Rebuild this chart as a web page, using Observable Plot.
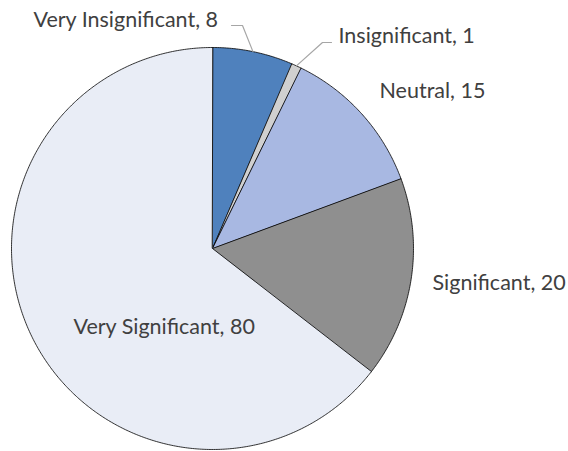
<!DOCTYPE html>
<html><head><meta charset="utf-8">
<script src="https://cdn.jsdelivr.net/npm/d3@7"></script>
<script src="https://cdn.jsdelivr.net/npm/@observablehq/plot@0.6"></script>
<style>body{margin:0;background:#fff}</style>
</head><body><div id="chart"></div>
<script>
const categories = ["Very Insignificant", "Insignificant", "Neutral", "Significant", "Very Significant"];
const values = [8, 1, 15, 20, 80];
const colors = ["#4f81bd", "#d0d0d0", "#a8b8e2", "#8f8f8f", "#e9edf6"];

// layout (pixel positions for labels & leader elbows)
const labelLayout = [
  {x: 33, y: 20, leader: [[242, 25], [231, 25]]},
  {x: 338, y: 36, leader: [[322, 42], [331, 42]]},
  {x: 379, y: 91, leader: null},
  {x: 432, y: 283, leader: null},
  {x: 73, y: 327, leader: null}
];
const cx = 212, cy = 248, R = 201;
const toU = (px) => (px - cx) / R;
const toV = (py) => (cy - py) / R;

const pie = d3.pie().sort(null).value(d => d.value).startAngle(0).endAngle(2 * Math.PI);
const rows = categories.map((c, i) => ({cat: c, value: values[i]}));
const arcs = pie(rows);

const slicePts = [];
arcs.forEach(a => {
  slicePts.push({cat: a.data.cat, x: 0, y: 0});
  const n = Math.max(2, Math.ceil((a.endAngle - a.startAngle) / (Math.PI / 360)));
  for (let k = 0; k <= n; k++) {
    const t = a.startAngle + (a.endAngle - a.startAngle) * k / n;
    slicePts.push({cat: a.data.cat, x: Math.sin(t), y: Math.cos(t)});
  }
});

const labels = arcs.map((a, i) => ({
  text: `${a.data.cat}, ${a.data.value}`,
  x: toU(labelLayout[i].x), y: toV(labelLayout[i].y)
}));

const leaderPts = [];
arcs.forEach((a, i) => {
  const L = labelLayout[i].leader;
  if (!L) return;
  const m = (a.startAngle + a.endAngle) / 2;
  leaderPts.push({cat: a.data.cat, x: Math.sin(m), y: Math.cos(m)});
  L.forEach(([px, py]) => leaderPts.push({cat: a.data.cat, x: toU(px), y: toV(py)}));
});

const chart = Plot.plot({
  width: 568, height: 451, margin: 0,
  x: {domain: [-1, 1], range: [cx - R, cx + R], axis: null},
  y: {domain: [-1, 1], range: [cy + R, cy - R], axis: null},
  color: {domain: categories, range: colors},
  style: {background: "#fff"},
  marks: [
    Plot.line(slicePts, {x: "x", y: "y", z: "cat", fill: "cat", stroke: "#000", strokeWidth: 0.8, curve: "linear-closed", strokeLinejoin: "round"}),
    Plot.line(leaderPts, {x: "x", y: "y", z: "cat", stroke: "#a6a6a6", strokeWidth: 1.2}),
    Plot.text(labels, {x: "x", y: "y", text: "text", textAnchor: "start", lineAnchor: "middle", fill: "#404040", fontSize: 21.5, fontFamily: "Lato"})
  ]
});
document.getElementById("chart").appendChild(chart);
</script>
</body></html>
